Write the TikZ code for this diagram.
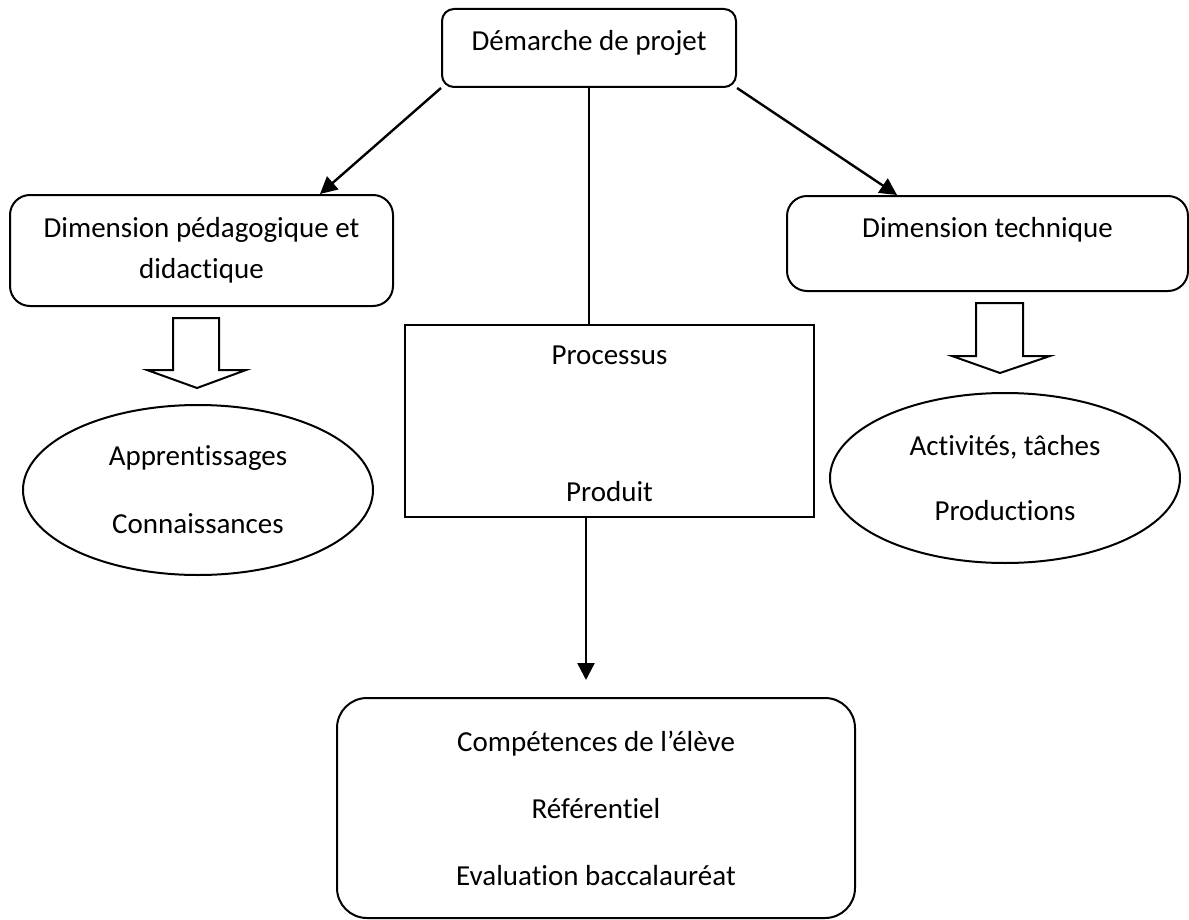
\documentclass[tikz,border=0pt]{standalone}
\usepackage{fontspec}
\setmainfont{Carlito}[Ligatures=NoCommon]
\usetikzlibrary{arrows.meta,shapes.geometric}

\tikzset{
  rbox/.style={draw,line width=1pt,rounded corners=#1,inner sep=0pt,align=center},
  rbox/.default=8pt,
  oval/.style={draw,ellipse,line width=1pt,inner sep=0pt,align=center,
    minimum width=175pt,minimum height=85pt},
  arr/.style={line width=1.2pt,-{Triangle[length=8.5pt,width=8.5pt]}},
  bigarrow/.style={draw,line width=1pt}
}

\begin{document}
\begin{tikzpicture}[x=0.5pt,y=-0.5pt,font=\fontsize{14.5}{20.5}\selectfont]
\useasboundingbox (0,0) rectangle (1189,920);

% boxes
\node[rbox=6pt,minimum width=147pt,minimum height=39pt,
  label={[yshift=2.5pt]center:Démarche de projet}] (demarche) at (589,48) {};
\node[rbox=10pt,minimum width=191.5pt,minimum height=55.5pt] (pedago) at (201.5,250.5)
  {Dimension pédagogique et\\didactique};
\node[rbox=10pt,minimum width=200.5pt,minimum height=47.5pt,
  label={[yshift=6.75pt]center:Dimension technique}] (technique) at (987.5,243.5) {};
\node[draw,line width=1pt,minimum width=204.5pt,minimum height=96pt] (processus) at (609.5,421) {};
\node (txtprocessus) at (609.5,355) {Processus};
\node (txtproduit) at (609.5,492) {Produit};
\node[rbox=15pt,minimum width=259pt,minimum height=110pt,
  font=\fontsize{14.5}{33.5}\selectfont] (competences) at (596,808)
  {Compétences de l’élève\\Référentiel\\Evaluation baccalauréat};

% ellipses
\node[oval,font=\fontsize{14.5}{34}\selectfont] (apprent) at (198,490) {Apprentissages\\Connaissances};
\node[oval,font=\fontsize{14.5}{32.5}\selectfont] (activites) at (1005,478) {Activités, tâches\\Productions};

% block arrows
\draw[bigarrow] (173,318) -- (219,318) -- (219,370) -- (246,370) -- (197,388)
  -- (147,370) -- (173,370) -- cycle;
\draw[bigarrow] (976,303) -- (1023,303) -- (1023,356) -- (1050,356) -- (1000,373)
  -- (952,356) -- (976,356) -- cycle;

% connectors
\draw[arr] (demarche.south west) -- (pedago.north -| 320,0);
\draw[arr] (demarche.south east) -- (technique.north -| 897,0);
\draw[line width=1pt] (demarche.south) -- (demarche.south |- processus.north);
\coordinate (tipend) at (586,680);
\draw[arr] (processus.south -| tipend) -- (tipend);

\end{tikzpicture}
\end{document}
